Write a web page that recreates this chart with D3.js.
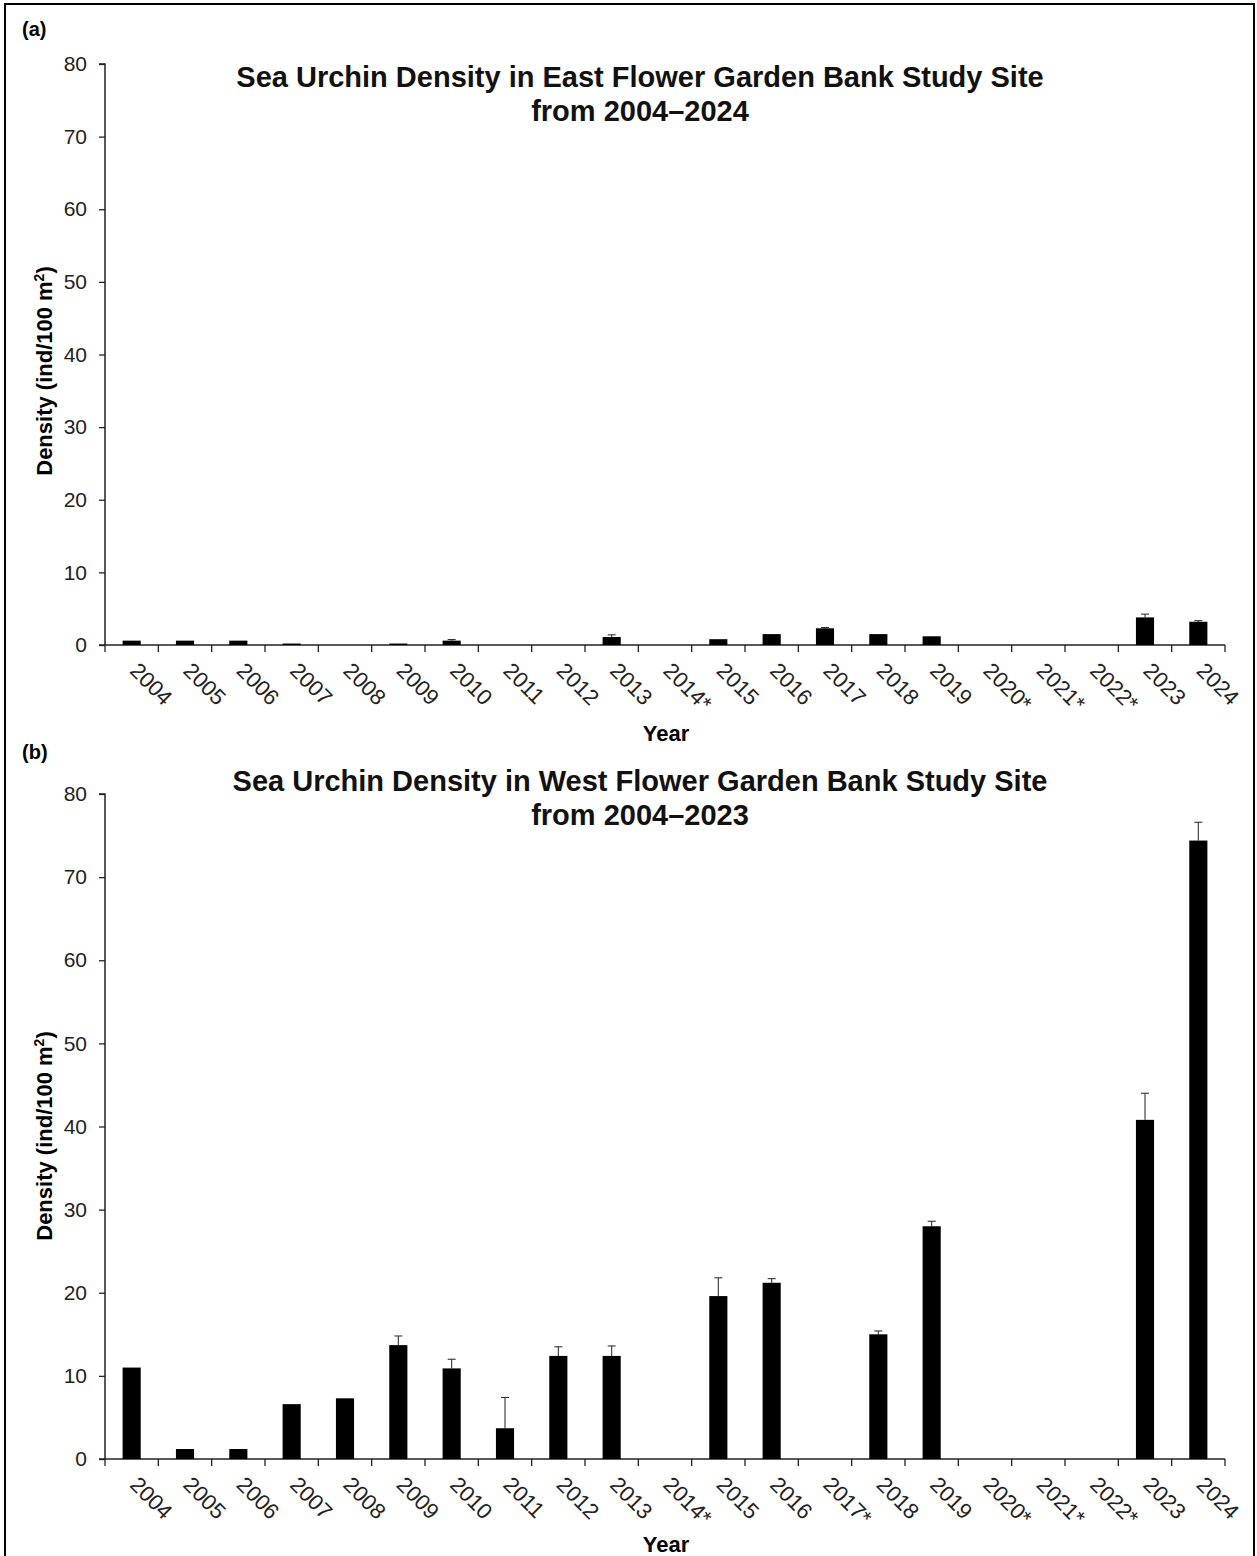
<!DOCTYPE html>
<html>
<head>
<meta charset="utf-8">
<script src="https://cdn.jsdelivr.net/npm/d3@7"></script>
<style>
  html, body { margin: 0; padding: 0; background: #fff; }
  svg { display: block; font-family: "Liberation Sans", Arial, sans-serif; }
</style>
</head>
<body>
<svg id="fig" width="1257" height="1556"></svg>
<script>
// Survey years (an asterisk marks a year with no survey)
const yearsEast = ["2004","2005","2006","2007","2008","2009","2010","2011","2012","2013","2014*",
  "2015","2016","2017","2018","2019","2020*","2021*","2022*","2023","2024"];
const yearsWest = ["2004","2005","2006","2007","2008","2009","2010","2011","2012","2013","2014*",
  "2015","2016","2017*","2018","2019","2020*","2021*","2022*","2023","2024"];

// Mean density (ind/100 m²) and standard error, East Flower Garden Bank
const densityEast = [0.6, 0.6, 0.6, 0.2, 0, 0.2, 0.6, 0, 0, 1.1, 0,
  0.8, 1.5, 2.3, 1.5, 1.2, 0, 0, 0, 3.8, 3.2];
const errorEast = [0, 0, 0, 0, 0, 0, 0.15, 0, 0, 0.3, 0,
  0, 0, 0.1, 0, 0, 0, 0, 0, 0.45, 0.15];

// Mean density (ind/100 m²) and standard error, West Flower Garden Bank
const densityWest = [11.0, 1.2, 1.2, 6.6, 7.3, 13.7, 10.9, 3.7, 12.4, 12.4, 0,
  19.6, 21.2, 0, 15.0, 28.0, 0, 0, 0, 40.8, 74.4];
const errorWest = [0, 0, 0, 0, 0, 1.1, 1.1, 3.7, 1.1, 1.2, 0,
  2.2, 0.5, 0, 0.4, 0.6, 0, 0, 0, 3.2, 2.2];

const yTicks = [0, 10, 20, 30, 40, 50, 60, 70, 80];

const svg = d3.select("#fig");

// Figure frame
svg.append("rect")
  .attr("x", 5).attr("y", 4).attr("width", 1249).attr("height", 1560)
  .attr("fill", "none").attr("stroke", "#000").attr("stroke-width", 2);

function panel(cfg) {
  const g = svg.append("g");
  const x = d3.scaleBand().domain(cfg.years).range([105, 1225]).paddingInner(0.66).paddingOuter(0.33);
  const xEdge = d3.scaleLinear().domain([0, cfg.years.length]).range([105, 1225]);
  const y = d3.scaleLinear().domain([0, 80]).range([cfg.y0, cfg.y80]);

  // panel letter
  g.append("text").attr("x", 22).attr("y", cfg.letterY)
    .attr("font-size", 20).attr("font-weight", "bold").text(cfg.letter);

  // title
  const t = g.append("text").attr("text-anchor", "middle")
    .attr("font-size", 29).attr("font-weight", "bold").attr("fill", "#111");
  t.append("tspan").attr("x", 640).attr("y", cfg.titleY).text(cfg.title[0]);
  t.append("tspan").attr("x", 640).attr("y", cfg.titleY + 34).text(cfg.title[1]);

  // y axis
  const yAxis = d3.axisLeft(y).tickValues(yTicks).tickSize(6).tickPadding(12);
  const ya = g.append("g").attr("transform", "translate(105,0)").call(yAxis);
  ya.select(".domain").attr("stroke", "#222").attr("stroke-width", 1.5).attr("d", `M-6,${cfg.y80}H0V${cfg.y0}`);
  ya.selectAll(".tick line").attr("stroke", "#222").attr("stroke-width", 1.3);
  ya.selectAll(".tick text").attr("font-size", 21).attr("fill", "#222")
    .attr("font-family", "Liberation Sans, Arial, sans-serif");

  // x axis with ticks on category boundaries
  const xa = g.append("g");
  xa.append("line").attr("x1", 99).attr("x2", 1225).attr("y1", cfg.y0).attr("y2", cfg.y0)
    .attr("stroke", "#222").attr("stroke-width", 1.5);
  xa.selectAll("line.xt").data(d3.range(cfg.years.length + 1)).join("line")
    .attr("class", "xt")
    .attr("x1", d => xEdge(d)).attr("x2", d => xEdge(d))
    .attr("y1", cfg.y0).attr("y2", cfg.y0 + 7)
    .attr("stroke", "#222").attr("stroke-width", 1.3);
  xa.selectAll("text").data(cfg.years).join("text")
    .attr("transform", d => `translate(${x(d) + x.bandwidth() / 2 - 3},${cfg.y0 + 27}) rotate(45)`)
    .attr("font-size", 22).attr("fill", "#222")
    .text(d => d);

  // axis titles
  g.append("text")
    .attr("transform", `translate(52,${cfg.yLabelY}) rotate(-90)`)
    .attr("text-anchor", "middle").attr("font-size", 22).attr("font-weight", "bold")
    .call(s => {
      s.append("tspan").text("Density (ind/100 m");
      s.append("tspan").attr("dy", -8).attr("font-size", 14).text("2");
      s.append("tspan").attr("dy", 8).text(")");
    });
  g.append("text").attr("x", 666).attr("y", cfg.yearY)
    .attr("text-anchor", "middle").attr("font-size", 22).attr("font-weight", "bold").text("Year");

  const data = cfg.years.map((yr, i) => ({ yr, v: cfg.values[i], e: cfg.errors[i] }));

  // error bars (upper only)
  const eb = g.append("g").attr("stroke", "#333").attr("stroke-width", 1.1);
  data.filter(d => d.v > 0 && d.e > 0).forEach(d => {
    const cx = x(d.yr) + x.bandwidth() / 2;
    eb.append("line").attr("x1", cx).attr("x2", cx).attr("y1", y(d.v)).attr("y2", y(d.v + d.e));
    eb.append("line").attr("x1", cx - 4).attr("x2", cx + 4).attr("y1", y(d.v + d.e)).attr("y2", y(d.v + d.e));
  });

  // bars
  g.append("g").selectAll("rect").data(data.filter(d => d.v > 0)).join("rect")
    .attr("x", d => x(d.yr)).attr("width", x.bandwidth())
    .attr("y", d => y(d.v)).attr("height", d => y(0) - y(d.v))
    .attr("fill", "#000");
}

panel({
  letter: "(a)", letterY: 36,
  title: ["Sea Urchin Density in East Flower Garden Bank Study Site", "from 2004\u20132024"],
  titleY: 87, y0: 645, y80: 64, yLabelY: 371, yearY: 741,
  years: yearsEast, values: densityEast, errors: errorEast
});

panel({
  letter: "(b)", letterY: 759,
  title: ["Sea Urchin Density in West Flower Garden Bank Study Site", "from 2004\u20132023"],
  titleY: 791, y0: 1459, y80: 794, yLabelY: 1136, yearY: 1552,
  years: yearsWest, values: densityWest, errors: errorWest
});
</script>
</body>
</html>
